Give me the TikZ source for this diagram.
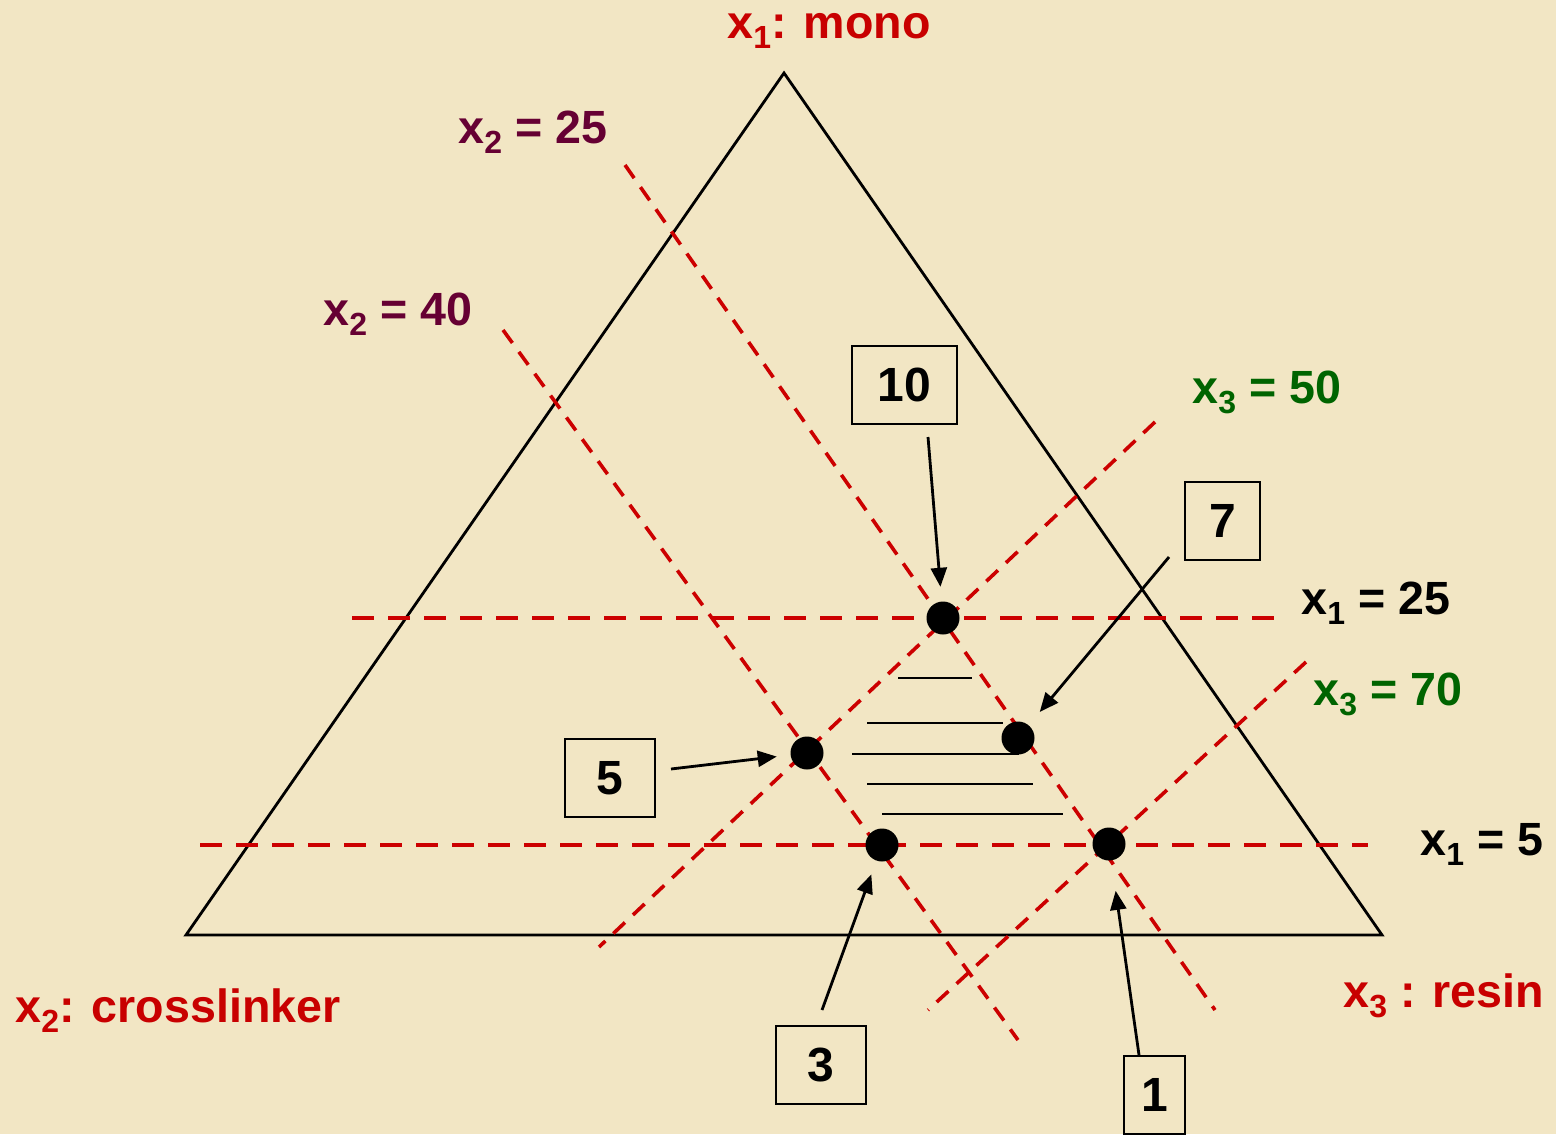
\documentclass[tikz,border=0pt]{standalone}
\usepackage{fontspec}
\setmainfont{Liberation Sans}
\usetikzlibrary{arrows.meta}
\definecolor{paper}{RGB}{242,230,196}
\definecolor{redtxt}{RGB}{200,0,0}
\definecolor{redline}{RGB}{204,0,0}
\definecolor{maroonlbl}{RGB}{102,0,51}
\definecolor{greenlbl}{RGB}{0,100,0}
\newcommand\lsub[1]{\raisebox{-5pt}{\fontsize{16}{16}\selectfont #1}}
\tikzset{
  lbl/.style={anchor=base west, inner sep=0pt, font=\fontsize{23.3}{28}\selectfont\bfseries},
  numbox/.style={draw, line width=1.2pt, minimum height=39pt, inner sep=0pt,
                 font=\fontsize{24}{28}\selectfont\bfseries},
  dot/.style={circle, fill=black, minimum size=16.5pt, inner sep=0pt},
  hdash/.style={draw=redline, line width=2.3pt, dash pattern=on 11pt off 7pt},
  ddash/.style={draw=redline, line width=1.8pt, dash pattern=on 8pt off 5.5pt},
  ptr/.style={-{Triangle[length=9.5pt,width=8pt]}, line width=1.4pt},
  hatch/.style={line width=1.1pt},
  tri/.style={line width=1.4pt},
}
\begin{document}
\begin{tikzpicture}[x=0.5pt,y=-0.5pt]
\useasboundingbox (0,0) rectangle (1556,1134);
\fill[paper] (0,0) rectangle (1556,1134);

% triangle
\coordinate (top) at (784,73);
\coordinate (bl) at (186,935);
\coordinate (br) at (1382,935);
\draw[tri] (top) -- (bl) -- (br) -- cycle;

% dashed constraint lines
\draw[hdash] (352,618) -- (1275,618);
\draw[hdash] (200,845) -- (1368,845);
\draw[ddash] (625,165) -- (1215,1010);
\draw[ddash] (503,330) -- (1018,1040);
\draw[ddash] (1155,422) -- (599,947);
\draw[ddash] (1306,662) -- (928,1010);

% hatch lines
\draw[hatch] (898,678) -- (972,678);
\draw[hatch] (867,723) -- (1003,723);
\draw[hatch] (852,754) -- (1019,754);
\draw[hatch] (867,784) -- (1033,784);
\draw[hatch] (882,814) -- (1063,814);

% points
\node[dot] (p10) at (943,618) {};
\node[dot] (p7) at (1018,738) {};
\node[dot] (p5) at (807,753) {};
\node[dot] (p3) at (882,845) {};
\node[dot] (p1) at (1109,844) {};

% boxes
\node[numbox, minimum width=52.5pt] (b10) at (904.5,385) {10};
\node[numbox, minimum width=37.5pt] (b7) at (1222.5,521) {7};
\node[numbox, minimum width=45pt] (b5) at (610,778) {5};
\node[numbox, minimum width=45pt] (b3) at (821,1065) {3};
\node[numbox, minimum width=30.5pt] (b1) at (1154.5,1095) {1};

% arrows
\coordinate (s10) at (928,437);
\coordinate (s7) at (1169,557);
\coordinate (s5) at (671,769);
\coordinate (s3) at (822,1010);
\coordinate (s1) at (1139,1055);
\draw[ptr, shorten >=7.2pt] (s10) -- (p10);
\draw[ptr, shorten >=8.5pt] (s7) -- (p7);
\draw[ptr, shorten >=6.8pt] (s5) -- (p5);
\draw[ptr, shorten >=7.2pt] (s3) -- (p3);
\draw[ptr, shorten >=15.2pt] (s1) -- (p1);

% labels
\node[lbl, text=redtxt] (lmono) at (727,39) {x\lsub{1}: mono};
\node[lbl, text=redtxt] (lcross) at (15,1022) {x\lsub{2}: crosslinker};
\node[lbl, text=redtxt] (lresin) at (1343,1007) {x\lsub{3} : resin};
\node[lbl, text=maroonlbl] (l225) at (458,144) {x\lsub{2} = 25};
\node[lbl, text=maroonlbl] (l240) at (323,325) {x\lsub{2} = 40};
\node[lbl, text=greenlbl] (l350) at (1192,403) {x\lsub{3} = 50};
\node[lbl, text=greenlbl] (l370) at (1313,705) {x\lsub{3} = 70};
\node[lbl, text=black] (l125) at (1301,614) {x\lsub{1} = 25};
\node[lbl, text=black] (l15) at (1420,855) {x\lsub{1} = 5};
\end{tikzpicture}
\end{document}
